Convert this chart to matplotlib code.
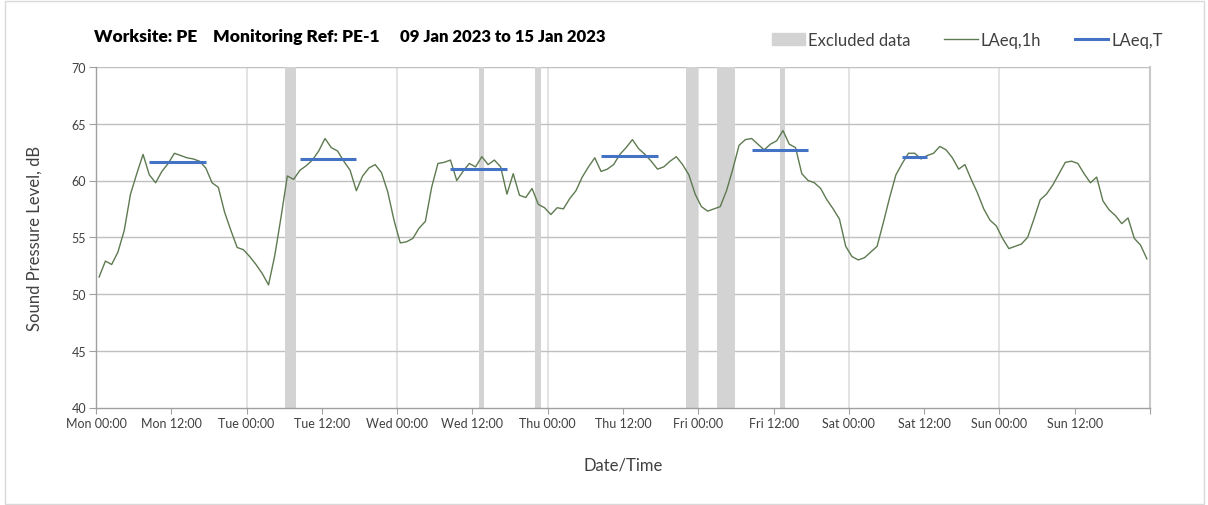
import numpy as np
import matplotlib.pyplot as plt
from matplotlib.patches import Patch, Rectangle
from matplotlib.lines import Line2D

plt.rcParams['font.family'] = ['Lato', 'DejaVu Sans']

# hourly LAeq,1h values, Mon 00:00 .. Sun 23:00
laeq_1h = [
    51.5, 52.9, 52.6, 53.7, 55.6, 58.8, 60.6, 62.3, 60.5, 59.8, 60.8, 61.5,
    62.4, 62.2, 62.0, 61.9, 61.7, 61.1, 59.8, 59.4, 57.2, 55.6, 54.1, 53.9,
    53.3, 52.6, 51.8, 50.8, 53.4, 56.8, 60.4, 60.1, 60.9, 61.3, 61.8, 62.6,
    63.7, 62.9, 62.6, 61.7, 60.9, 59.1, 60.4, 61.1, 61.4, 60.7, 59.0, 56.5,
    54.5, 54.6, 54.9, 55.8, 56.4, 59.4, 61.5, 61.6, 61.8, 60.0, 60.8, 61.5,
    61.2, 62.1, 61.4, 61.8, 61.2, 58.8, 60.6, 58.7, 58.5, 59.3, 57.9, 57.6,
    57.0, 57.6, 57.5, 58.4, 59.1, 60.3, 61.2, 62.0, 60.8, 61.0, 61.4, 62.3,
    62.9, 63.6, 62.8, 62.3, 61.7, 61.0, 61.2, 61.7, 62.1, 61.4, 60.5, 58.8,
    57.7, 57.3, 57.5, 57.7, 59.1, 61.0, 63.1, 63.6, 63.7, 63.2, 62.7, 63.2,
    63.5, 64.4, 63.2, 62.9, 60.6, 60.0, 59.8, 59.3, 58.3, 57.5, 56.6, 54.2,
    53.3, 53.0, 53.2, 53.7, 54.2, 56.3, 58.5, 60.5, 61.5, 62.4, 62.4, 61.9,
    62.2, 62.4, 63.0, 62.7, 62.0, 61.0, 61.4, 60.1, 58.9, 57.5, 56.5, 56.0,
    54.9, 54.0, 54.2, 54.4, 55.0, 56.6, 58.3, 58.8, 59.6, 60.6, 61.6, 61.7,
    61.5, 60.6, 59.8, 60.3, 58.2, 57.4, 56.9, 56.2, 56.7, 54.9, 54.3, 53.1,
]

# daytime LAeq,T periods (first hour, last hour, level)
period_first = [8, 32, 56, 80, 104, 128]
period_last = [17, 41, 65, 89, 113, 132]
laeq_t = [61.6, 61.9, 61.0, 62.2, 62.7, 62.1]

# excluded data (first hour, number of hours)
excl_first = [30, 61, 70, 94, 99, 109]
excl_hours = [2, 1, 1, 2, 3, 1]

tick_labels = ['Mon 00:00', 'Mon 12:00', 'Tue 00:00', 'Tue 12:00', 'Wed 00:00',
               'Wed 12:00', 'Thu 00:00', 'Thu 12:00', 'Fri 00:00', 'Fri 12:00',
               'Sat 00:00', 'Sat 12:00', 'Sun 00:00', 'Sun 12:00', '']

green = '#5e7a50'
blue = '#4472c4'
band = '#d3d3d3'

fig = plt.figure(figsize=(12.08, 5.06), dpi=100)
fig.patches.append(Rectangle((5 / 1208, 0.002), 1199 / 1208, 0.995, transform=fig.transFigure,
                             fill=False, edgecolor='#d9d9d9', linewidth=1))
ax = fig.add_axes([96 / 1208, 1 - 408.5 / 506, 1054 / 1208, 340.5 / 506])

for s, n in zip(excl_first, excl_hours):
    ax.axvspan(s + 0.05, s + n - 0.1, color=band, linewidth=0, zorder=1)

hrs = np.arange(len(laeq_1h)) + 0.5
ax.plot(hrs, laeq_1h, color=green, linewidth=1.0, zorder=3)

for a, b, v in zip(period_first, period_last, laeq_t):
    ax.plot([a + 0.5, b + 0.5], [v, v], color=blue, linewidth=2.2, solid_capstyle='butt', zorder=4)

ax.set_xlim(0, 168)
ax.set_ylim(40, 70)
ax.set_xticks(np.arange(0, 169, 12))
ax.set_xticklabels(tick_labels, fontsize=9, color='#404040')
ax.set_yticks(np.arange(40, 71, 5))
ax.tick_params(axis='y', labelsize=9, colors='#404040', length=5, width=0.8, pad=2)
ax.tick_params(axis='x', length=4, width=0.8, pad=3)
ax.tick_params(axis='both', color='#a0a0a0')

for d in range(24, 168, 24):
    ax.axvline(d, color='#dedede', linewidth=1.2, zorder=0)
for y in range(45, 71, 5):
    ax.axhline(y, color='#c0c0c0', linewidth=1.0, zorder=0)

for side in ['left', 'bottom', 'right']:
    ax.spines[side].set_color('#a0a0a0')
    ax.spines[side].set_linewidth(1.0)
ax.spines['right'].set_color('#c8c8c8')
ax.spines['right'].set_linewidth(1.5)
ax.spines['top'].set_visible(False)

ax.set_ylabel('Sound Pressure Level, dB', fontsize=12, color='#404040', labelpad=21)
ax.set_xlabel('Date/Time', fontsize=12, color='#404040', labelpad=20)

fig.text(94 / 1208, 1 - 37 / 506, 'Worksite: PE', fontsize=12.5, fontweight='heavy', va='center')
fig.text(213 / 1208, 1 - 37 / 506, 'Monitoring Ref: PE-1', fontsize=12.5, fontweight='heavy', va='center')
fig.text(400 / 1208, 1 - 37 / 506, '09 Jan 2023 to 15 Jan 2023', fontsize=12, fontweight='heavy', va='center')

handles = [Patch(color=band), Line2D([], [], color=green, linewidth=1.0),
           Line2D([], [], color=blue, linewidth=2.2)]
fig.legend(handles, ['Excluded data', 'LAeq,1h', 'LAeq,T'], loc='center right',
           bbox_to_anchor=(1178 / 1208, 1 - 41 / 506), ncol=3, frameon=False,
           fontsize=12, handlelength=2.0, handletextpad=0.2, columnspacing=2.0,
           labelcolor='#404040')

fig.savefig('out.png', dpi=100)
